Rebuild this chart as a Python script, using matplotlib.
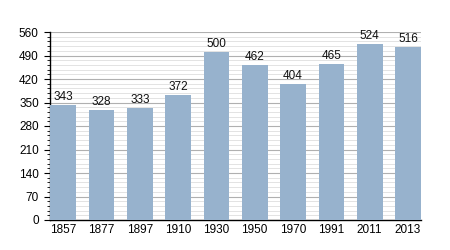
import matplotlib
matplotlib.use("Agg")
import matplotlib.pyplot as plt
from matplotlib.ticker import MultipleLocator

years = ["1857", "1877", "1897", "1910", "1930", "1950", "1970", "1991", "2011", "2013"]
population = [343, 328, 333, 372, 500, 462, 404, 465, 524, 516]

plt.rcParams['font.family'] = ['Liberation Sans', 'DejaVu Sans']

fig = plt.figure(figsize=(4.5, 2.5), dpi=100)
ax = fig.add_axes([0.111, 0.12, 0.825, 0.752])

x = range(len(years))
ax.bar(x, population, width=0.67, color="#97b2cd", zorder=3)
for xi, v in zip(x, population):
    ax.text(xi, v + 6, str(v), ha="center", va="bottom", fontsize=8.5, color="#111111", zorder=4)

ax.set_xlim(-0.345, len(years) - 1 + 0.345)
ax.set_ylim(0, 560)
ax.yaxis.set_major_locator(MultipleLocator(70))
ax.yaxis.set_minor_locator(MultipleLocator(14))
ax.set_xticks(list(x))
ax.set_xticklabels(years)
ax.grid(axis="y", which="major", color="#b0b0b0", linewidth=0.8, zorder=0)
ax.grid(axis="y", which="minor", color="#dedede", linewidth=0.6, zorder=0)
for s in ["top", "right"]:
    ax.spines[s].set_visible(False)
ax.spines["left"].set_linewidth(1.0)
ax.spines["bottom"].set_linewidth(1.0)
ax.tick_params(axis="y", which="major", length=4, width=0.8, labelsize=8.5, pad=4)
ax.tick_params(axis="y", which="minor", length=2, width=0.6)
ax.tick_params(axis="x", length=0, labelsize=8.5, pad=3)

fig.savefig("out.png", dpi=100)
